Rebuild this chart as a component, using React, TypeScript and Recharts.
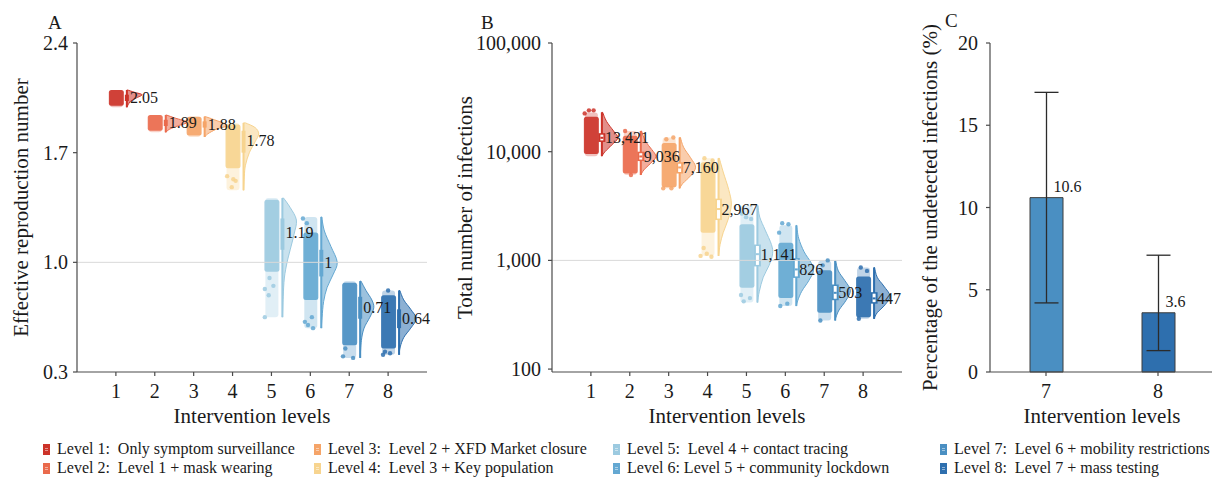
import React from "react";
import {
  ComposedChart,
  BarChart,
  Bar,
  Scatter,
  XAxis,
  YAxis,
  ReferenceLine,
  ErrorBar,
  Cell,
  LabelList,
} from "recharts";

const SERIF = "'Liberation Serif', 'Times New Roman', serif";
const INK = "#1a1a1a";
const AXIS = "#4a4a4a";

const levels = [1, 2, 3, 4, 5, 6, 7, 8];
const levelColors = [
  "#cc3329",
  "#ea6a4c",
  "#f5a468",
  "#f7d48f",
  "#9ccae0",
  "#64a8d2",
  "#4a8fc2",
  "#2e6fae",
];
const legendLabels = [
  "Level 1:  Only symptom surveillance",
  "Level 2:  Level 1 + mask wearing",
  "Level 3:  Level 2 + XFD Market closure",
  "Level 4:  Level 3 + Key population",
  "Level 5:  Level 4 + contact tracing",
  "Level 6: Level 5 + community lockdown",
  "Level 7:  Level 6 + mobility restrictions",
  "Level 8:  Level 7 + mass testing",
];

// ---- panel A: effective reproduction number ----
const rTicks = [0.3, 1.0, 1.7, 2.4];
const rMedian = [2.05, 1.89, 1.88, 1.78, 1.19, 1, 0.71, 0.64];
const rLo = [1.99, 1.83, 1.8, 1.46, 0.65, 0.58, 0.39, 0.41];
const rHi = [2.1, 1.94, 1.93, 1.89, 1.41, 1.29, 0.88, 0.82];
const rBoxLo = [2.03, 1.87, 1.86, 1.7, 1.08, 0.91, 0.64, 0.58];
const rBoxHi = [2.07, 1.91, 1.9, 1.84, 1.28, 1.08, 0.78, 0.7];
const rCloudLo = [2.0, 1.84, 1.81, 1.6, 0.94, 0.76, 0.47, 0.45];
const rCloudHi = [2.1, 1.94, 1.93, 1.88, 1.4, 1.19, 0.87, 0.79];
// [value, half-violin width in x units]
const rViolin: [number, number][][] = [
  [[2.1, 0.02], [2.085, 0.2], [2.07, 0.39], [2.05, 0.25], [2.03, 0.1], [2.0, 0.02], [1.99, 0]],
  [[1.94, 0.02], [1.92, 0.25], [1.895, 0.55], [1.87, 0.3], [1.85, 0.1], [1.83, 0]],
  [[1.93, 0.02], [1.91, 0.25], [1.875, 0.58], [1.85, 0.3], [1.82, 0.08], [1.8, 0]],
  [[1.89, 0.05], [1.86, 0.3], [1.82, 0.39], [1.77, 0.3], [1.7, 0.15], [1.62, 0.05], [1.55, 0.02], [1.46, 0]],
  [[1.41, 0.03], [1.35, 0.2], [1.27, 0.36], [1.18, 0.3], [1.08, 0.2], [1.0, 0.12], [0.9, 0.05], [0.78, 0.02], [0.65, 0]],
  [[1.29, 0.01], [1.2, 0.08], [1.1, 0.25], [1.0, 0.41], [0.92, 0.3], [0.84, 0.15], [0.75, 0.06], [0.65, 0.02], [0.58, 0]],
  [[0.88, 0.02], [0.82, 0.15], [0.76, 0.3], [0.71, 0.35], [0.65, 0.25], [0.58, 0.1], [0.5, 0.03], [0.39, 0]],
  [[0.82, 0.02], [0.76, 0.12], [0.7, 0.3], [0.64, 0.44], [0.58, 0.3], [0.52, 0.12], [0.46, 0.03], [0.41, 0]],
];
const rOutliers = [
  { level: 4, x: 3.86, y: 1.55 },
  { level: 4, x: 4.02, y: 1.53 },
  { level: 4, x: 3.98, y: 1.48 },
  { level: 4, x: 4.08, y: 1.52 },
  { level: 5, x: 4.83, y: 0.83 },
  { level: 5, x: 4.93, y: 0.79 },
  { level: 5, x: 5.05, y: 0.85 },
  { level: 5, x: 4.95, y: 0.9 },
  { level: 5, x: 4.83, y: 0.65 },
  { level: 6, x: 5.86, y: 0.62 },
  { level: 6, x: 5.94, y: 0.6 },
  { level: 6, x: 6.07, y: 0.58 },
  { level: 6, x: 6.04, y: 0.65 },
  { level: 6, x: 5.81, y: 1.28 },
  { level: 6, x: 5.91, y: 1.25 },
  { level: 7, x: 6.84, y: 0.4 },
  { level: 7, x: 7.1, y: 0.39 },
  { level: 7, x: 6.9, y: 0.45 },
  { level: 8, x: 7.87, y: 0.41 },
  { level: 8, x: 8.05, y: 0.42 },
  { level: 8, x: 7.92, y: 0.43 },
  { level: 8, x: 8.0, y: 0.82 },
];

// ---- panel B: total number of infections ----
const nTicks = [100, 1000, 10000, 100000];
const nMedian = [13421, 9036, 7160, 2967, 1141, 826, 503, 447];
const nLo = [9100, 6100, 4600, 1100, 410, 380, 280, 290];
const nHi = [23000, 15500, 13500, 8700, 3200, 2100, 990, 860];
const nBoxLo = [12300, 8200, 6300, 2350, 880, 690, 430, 400];
const nBoxHi = [14800, 10000, 8000, 3700, 1400, 1050, 600, 510];
const nCloudLo = [9500, 6300, 4700, 1800, 560, 450, 330, 300];
const nCloudHi = [21000, 14000, 12000, 8000, 2150, 1450, 810, 710];
const nViolin: [number, number][][] = [
  [[23000, 0.02], [19000, 0.12], [15500, 0.3], [13400, 0.41], [11500, 0.25], [10000, 0.08], [9100, 0]],
  [[15500, 0.02], [12500, 0.12], [10500, 0.28], [9000, 0.39], [7800, 0.25], [6800, 0.08], [6100, 0]],
  [[13500, 0.02], [11000, 0.1], [8800, 0.28], [7200, 0.41], [6000, 0.28], [5100, 0.08], [4600, 0]],
  [[8700, 0.02], [6500, 0.12], [4500, 0.26], [3300, 0.33], [2400, 0.25], [1800, 0.12], [1400, 0.04], [1100, 0]],
  [[3200, 0.01], [2500, 0.06], [1900, 0.2], [1400, 0.36], [1150, 0.39], [900, 0.3], [700, 0.15], [520, 0.05], [410, 0]],
  [[2100, 0.01], [1600, 0.06], [1200, 0.2], [950, 0.38], [800, 0.44], [650, 0.32], [520, 0.14], [430, 0.04], [380, 0]],
  [[990, 0.01], [800, 0.08], [650, 0.25], [530, 0.39], [430, 0.28], [350, 0.1], [300, 0.02], [280, 0]],
  [[860, 0.01], [700, 0.08], [580, 0.25], [470, 0.41], [390, 0.28], [330, 0.08], [290, 0]],
];
const nOutliers = [
  { level: 1, x: 0.95, y: 24000 },
  { level: 1, x: 1.07, y: 24000 },
  { level: 1, x: 0.84, y: 22500 },
  { level: 2, x: 1.88, y: 15500 },
  { level: 2, x: 2.03, y: 6100 },
  { level: 3, x: 2.94, y: 13000 },
  { level: 3, x: 3.12, y: 13500 },
  { level: 3, x: 2.86, y: 4600 },
  { level: 3, x: 3.07, y: 4600 },
  { level: 4, x: 3.82, y: 1100 },
  { level: 4, x: 3.98, y: 1150 },
  { level: 4, x: 4.1, y: 1080 },
  { level: 4, x: 3.9, y: 1300 },
  { level: 4, x: 3.92, y: 8700 },
  { level: 4, x: 4.13, y: 8300 },
  { level: 5, x: 4.99, y: 2500 },
  { level: 5, x: 5.12, y: 2400 },
  { level: 5, x: 4.88, y: 2700 },
  { level: 5, x: 4.93, y: 420 },
  { level: 5, x: 5.09, y: 450 },
  { level: 5, x: 4.86, y: 480 },
  { level: 6, x: 5.92, y: 2200 },
  { level: 6, x: 6.08, y: 2150 },
  { level: 6, x: 5.84, y: 1800 },
  { level: 6, x: 5.87, y: 380 },
  { level: 6, x: 6.05, y: 400 },
  { level: 7, x: 7.09, y: 1000 },
  { level: 7, x: 6.96, y: 900 },
  { level: 7, x: 6.9, y: 280 },
  { level: 8, x: 7.94, y: 860 },
  { level: 8, x: 8.1, y: 800 },
  { level: 8, x: 7.89, y: 290 },
];

// ---- panel C: undetected infections ----
const pctLevels = ["7", "8"];
const pctValue = [10.6, 3.6];
const pctLo = [4.2, 1.3];
const pctHi = [17.0, 7.1];
const pctTicks = [0, 5, 10, 15, 20];

const X_UNIT = 350 / 9; // px per intervention level on panels A and B
const BOX_DX = 11;

type Stat = {
  x: number;
  level: number;
  median: number;
  lo: number;
  hi: number;
  boxLo: number;
  boxHi: number;
  cloudLo: number;
  cloudHi: number;
  violin: [number, number][];
};

const build = (
  med: number[], lo: number[], hi: number[], bl: number[], bh: number[],
  cl: number[], ch: number[], vio: [number, number][][]
): Stat[] =>
  levels.map((l, i) => ({
    x: l,
    level: l,
    median: med[i],
    lo: lo[i],
    hi: hi[i],
    boxLo: bl[i],
    boxHi: bh[i],
    cloudLo: cl[i],
    cloudHi: ch[i],
    violin: vio[i],
  }));

const rData = build(rMedian, rLo, rHi, rBoxLo, rBoxHi, rCloudLo, rCloudHi, rViolin);
const nData = build(nMedian, nLo, nHi, nBoxLo, nBoxHi, nCloudLo, nCloudHi, nViolin);
const rLabels = levels.map((l, i) => ({ x: l, y: rMedian[i], text: String(rMedian[i]) }));
const nLabels = levels.map((l, i) => ({ x: l, y: nMedian[i], text: nMedian[i].toLocaleString("en-US") }));
const cData = pctLevels.map((l, i) => ({
  level: l,
  pct: pctValue[i],
  err: [pctValue[i] - pctLo[i], pctHi[i] - pctValue[i]],
}));

function smooth(pts: [number, number][]) {
  let d = "";
  for (let i = 0; i < pts.length - 1; i++) {
    const p0 = pts[i - 1] || pts[i];
    const p1 = pts[i];
    const p2 = pts[i + 1];
    const p3 = pts[i + 2] || p2;
    const c1x = p1[0] + (p2[0] - p0[0]) / 6;
    const c1y = p1[1] + (p2[1] - p0[1]) / 6;
    const c2x = p2[0] - (p3[0] - p1[0]) / 6;
    const c2y = p2[1] - (p3[1] - p1[1]) / 6;
    d += ` C${c1x},${c1y} ${c2x},${c2y} ${p2[0]},${p2[1]}`;
  }
  return d;
}

// range bar [lo, hi] gives the y scale; the rest of the raincloud is placed from it
const makeRaincloud = (log: boolean) => (props: any) => {
  const { x, y, width, height, payload } = props;
  if (payload == null || height == null) return <g />;
  const f = log ? Math.log10 : (v: number) => v;
  const top = f(payload.hi);
  const bot = f(payload.lo);
  const py = (v: number) => y + (height * (top - f(v))) / (top - bot);
  const cx = x + width / 2;
  const bx = cx + BOX_DX;
  const color = levelColors[payload.level - 1];
  const pts: [number, number][] = payload.violin.map(
    ([v, w]: [number, number]) => [bx + w * X_UNIT, py(v)] as [number, number]
  );
  const violinPath = `M${bx},${pts[0][1]} L${pts[0][0]},${pts[0][1]}${smooth(pts)} L${bx},${pts[pts.length - 1][1]} Z`;
  const cTop = py(payload.cloudHi);
  const cH = py(payload.cloudLo) - cTop;
  return (
    <g>
      <rect x={cx - 6} width={13} y={py(payload.hi)} height={py(payload.lo) - py(payload.hi)} fill={color} fillOpacity={0.3} rx={3} />
      <rect x={cx - 7} width={15} y={cTop} height={cH} fill={color} fillOpacity={0.9} rx={2.5} />
      <path d={violinPath} fill={color} fillOpacity={0.55} stroke={color} strokeWidth={1} />
      <line x1={bx} x2={bx} y1={py(payload.hi)} y2={py(payload.lo)} stroke={color} strokeWidth={2} />
      {log ? (
        <g>
          <rect x={bx - 3.5} width={7} y={py(payload.boxHi)} height={py(payload.boxLo) - py(payload.boxHi)} fill={color} />
          <rect x={bx - 1.5} width={3} y={py(payload.boxHi) + 1.5} height={Math.max(0, py(payload.boxLo) - py(payload.boxHi) - 3)} fill="#ffffff" />
          <rect x={bx - 1.5} width={3} y={py(payload.median) - 1} height={2} fill={color} />
        </g>
      ) : (
        <rect x={bx - 2} width={4} y={py(payload.boxHi)} height={py(payload.boxLo) - py(payload.boxHi)} fill={color} />
      )}
    </g>
  );
};

const outlierDot = (props: any) => (
  <circle cx={props.cx} cy={props.cy} r={2.2} fill={levelColors[props.payload.level - 1]} fillOpacity={0.85} />
);

const medianLabel = (props: any) => (
  <text x={props.cx + 14} y={props.cy} dominantBaseline="central" fontSize={16} fontFamily={SERIF} fill={INK}>
    {props.payload.text}
  </text>
);

const tickStyle = { fill: INK, fontSize: 20, fontFamily: SERIF };
const lineStyle = { stroke: AXIS, strokeWidth: 1.2 };
const titleStyle = { fill: INK, fontSize: 21, fontFamily: SERIF };

function RaincloudPanel({
  data, labels, outliers, log, yTitle, yWidth, titleOffset, tickMargin, width,
}: {
  data: Stat[];
  labels: { x: number; y: number; text: string }[];
  outliers: { level: number; x: number; y: number }[];
  log: boolean;
  yTitle: string;
  yWidth: number;
  titleOffset: number;
  tickMargin: number;
  width: number;
}) {
  const yLabel = {
    value: yTitle,
    angle: -90,
    position: "insideLeft" as const,
    offset: titleOffset,
    style: { textAnchor: "middle" as const },
    ...titleStyle,
  };
  return (
    <ComposedChart
      width={width}
      height={430}
      data={data}
      margin={{ top: 43, right: width - yWidth - 350, bottom: 0, left: 0 }}
    >
      <XAxis
        type="number"
        dataKey="x"
        domain={[0, 9]}
        ticks={levels}
        height={58}
        tick={tickStyle}
        tickSize={4}
        tickMargin={8}
        axisLine={lineStyle}
        tickLine={lineStyle}
        label={{ value: "Intervention levels", position: "insideBottom", offset: 7, ...titleStyle }}
      />
      {log ? (
        <YAxis
          type="number"
          scale="log"
          domain={[94, 100000]}
          allowDataOverflow
          ticks={nTicks}
          tickFormatter={(v: number) => v.toLocaleString("en-US")}
          width={yWidth}
          tick={tickStyle}
          tickSize={4}
          tickMargin={tickMargin}
          axisLine={lineStyle}
          tickLine={lineStyle}
          label={yLabel}
        />
      ) : (
        <YAxis
          type="number"
          domain={[0.3, 2.4]}
          ticks={rTicks}
          tickFormatter={(v: number) => v.toFixed(1)}
          width={yWidth}
          tick={tickStyle}
          tickSize={4}
          tickMargin={tickMargin}
          axisLine={lineStyle}
          tickLine={lineStyle}
          label={yLabel}
        />
      )}
      <ReferenceLine y={log ? 1000 : 1} stroke="#d9d9d9" strokeWidth={1} />
      <Bar
        dataKey={(d: Stat) => [d.lo, d.hi]}
        barSize={10}
        shape={makeRaincloud(log)}
        isAnimationActive={false}
      />
      <Scatter data={outliers} dataKey="y" shape={outlierDot} isAnimationActive={false} />
      <Scatter data={labels} dataKey="y" shape={medianLabel} isAnimationActive={false} />
    </ComposedChart>
  );
}

function LegendIcon({ color }: { color: string }) {
  return (
    <svg width={7} height={11} style={{ display: "block" }}>
      <rect x={0} y={0} width={7} height={11} fill={color} />
      <rect x={2} y={4} width={3} height={0.8} fill="#ffffff" fillOpacity={0.6} />
      <rect x={2} y={6.2} width={3} height={0.8} fill="#ffffff" fillOpacity={0.6} />
    </svg>
  );
}

const legendCols = [43, 314, 613, 940];
const legendRows = [449, 468];

export default function App() {
  return (
    <div
      style={{
        position: "absolute",
        left: 0,
        top: 0,
        width: 1212,
        height: 478,
        overflow: "hidden",
        background: "#ffffff",
        fontFamily: SERIF,
        color: INK,
      }}
    >
      <div style={{ position: "absolute", left: 0, top: 0 }}>
        <RaincloudPanel
          data={rData}
          labels={rLabels}
          outliers={rOutliers}
          log={false}
          yTitle="Effective reproduction number"
          yWidth={77}
          titleOffset={21}
          tickMargin={5}
          width={440}
        />
      </div>
      <div style={{ position: "absolute", left: 440, top: 0 }}>
        <RaincloudPanel
          data={nData}
          labels={nLabels}
          outliers={nOutliers}
          log={true}
          yTitle="Total number of infections"
          yWidth={112}
          titleOffset={25}
          tickMargin={7}
          width={472}
        />
      </div>
      <div style={{ position: "absolute", left: 880, top: 0 }}>
        <BarChart
          width={334}
          height={430}
          data={cData}
          margin={{ top: 43, right: 0, bottom: 0, left: 0 }}
        >
          <XAxis
            dataKey="level"
            height={58}
            tick={tickStyle}
            tickSize={4}
            tickMargin={8}
            axisLine={lineStyle}
            tickLine={lineStyle}
            label={{ value: "Intervention levels", position: "insideBottom", offset: 7, ...titleStyle }}
          />
          <YAxis
            type="number"
            domain={[0, 20]}
            ticks={pctTicks}
            width={110}
            tick={tickStyle}
            tickSize={4}
            tickMargin={8}
            axisLine={lineStyle}
            tickLine={lineStyle}
            label={{
              value: "Percentage of the undetected infections (%)",
              angle: -90,
              position: "insideLeft",
              offset: 50,
              style: { textAnchor: "middle" },
              ...titleStyle,
            }}
          />
          <Bar dataKey="pct" barSize={33} stroke="#3d3d3d" strokeWidth={1} isAnimationActive={false}>
            {cData.map((d, i) => (
              <Cell key={d.level} fill={levelColors[6 + i]} />
            ))}
            <ErrorBar dataKey="err" width={12} stroke="#2b2b2b" strokeWidth={1.3} direction="y" />
            <LabelList
              dataKey="pct"
              content={(p: any) => (
                <text x={p.x + p.width / 2 + 7} y={p.y - 11} dominantBaseline="central" fontSize={16} fontFamily={SERIF} fill={INK}>
                  {p.value}
                </text>
              )}
            />
          </Bar>
        </BarChart>
      </div>

      <div style={{ position: "absolute", left: 48, top: 12, fontSize: 19 }}>A</div>
      <div style={{ position: "absolute", left: 481, top: 12, fontSize: 19 }}>B</div>
      <div style={{ position: "absolute", left: 945, top: 10, fontSize: 19 }}>C</div>

      {legendLabels.map((label, i) => {
        const col = Math.floor(i / 2);
        const row = i % 2;
        return (
          <div
            key={label}
            style={{
              position: "absolute",
              left: legendCols[col],
              top: legendRows[row] - 10,
              height: 20,
              display: "flex",
              alignItems: "center",
              fontSize: 16,
              whiteSpace: "pre",
            }}
          >
            <LegendIcon color={levelColors[i]} />
            <span style={{ marginLeft: 7 }}>{label}</span>
          </div>
        );
      })}
    </div>
  );
}
